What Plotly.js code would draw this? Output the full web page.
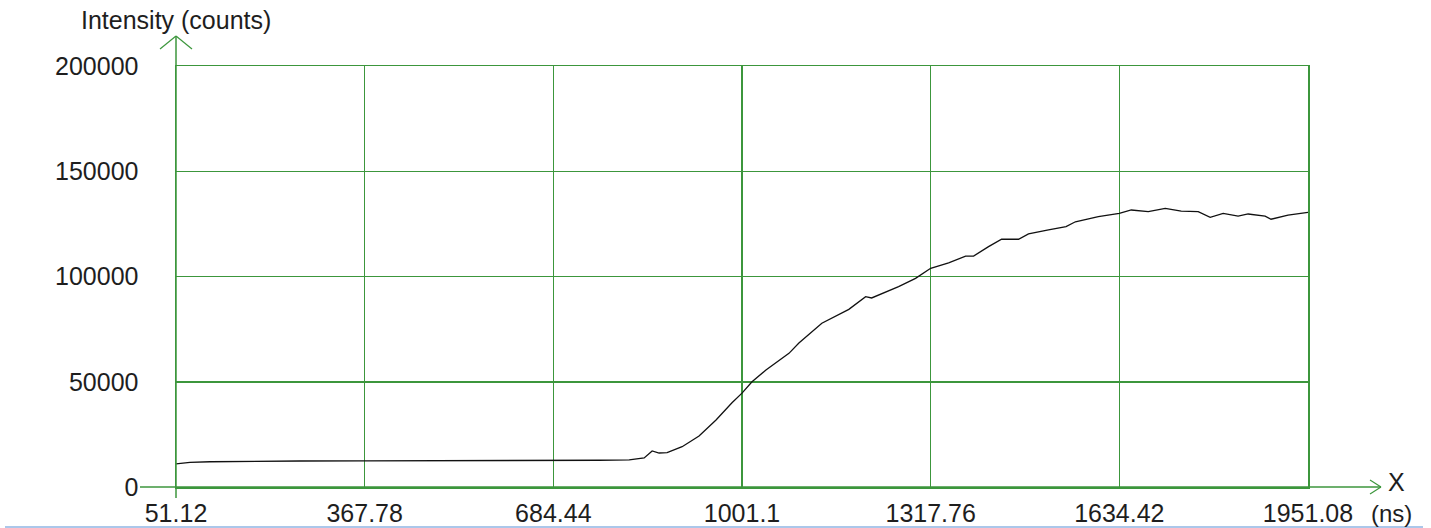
<!DOCTYPE html>
<html>
<head>
<meta charset="utf-8">
<script src="https://cdn.plot.ly/plotly-3.0.1.min.js"></script>
<style>
html,body{margin:0;padding:0;background:#fff;}
#chart{width:1431px;height:528px;}
</style>
</head>
<body>
<div id="chart"></div>
<script>
// Time axis (ns) and intensity (counts)
const timeNs = [51.12, 74.6, 108.1, 175.1, 258.9, 367.78, 459.9, 560.4, 684.44, 761.5, 811.8, 836.9,
  850.3, 862.0, 875.4, 900.6, 929.0, 957.5, 984.3, 1001.1, 1017.9, 1041.3, 1079.9, 1096.6, 1135.1,
  1180.4, 1208.6, 1218.7, 1263.9, 1292.4, 1317.76, 1347.9, 1376.4, 1389.8, 1414.9, 1436.8, 1465.2,
  1482.0, 1515.5, 1545.0, 1560.7, 1599.2, 1634.42, 1654.5, 1683.0, 1711.5, 1738.3, 1766.8, 1786.9,
  1808.7, 1833.8, 1850.6, 1879.1, 1889.1, 1917.6, 1951.08];
const intensity = [11000, 11700, 12000, 12300, 12350, 12400, 12400, 12500, 12600, 12700, 12900, 13800,
  17100, 16150, 16300, 19150, 24200, 31800, 40000, 44600, 50000, 55600, 63500, 68400, 77800,
  84400, 90400, 89800, 95200, 99100, 103900, 106500, 109700, 109700, 114200, 117700, 117700,
  120200, 122100, 123700, 126000, 128400, 130000, 131600, 130800, 132400, 131100, 130800, 128100,
  130000, 128700, 129700, 128700, 127200, 129200, 130500];
const xTickVals = [51.12, 367.78, 684.44, 1001.1, 1317.76, 1634.42, 1951.08];
const xTickText = ["51.12", "367.78", "684.44", "1001.1", "1317.76", "1634.42", "1951.08"];
const yTickVals = [0, 50000, 100000, 150000, 200000];
const yTickText = ["0", "50000", "100000", "150000", "200000"];

const PL = 176, PR = 1308, PT = 66, PB = 487;
const fx = px => (px - PL) / (PR - PL);
const fy = py => (PB - py) / (PB - PT);
const green = '#3c963c';
const txt = '#1e1e1e';
const font = 'Liberation Sans, Arial, sans-serif';
const FS = 25;

function seg(x0, y0, x1, y1, color, w) {
  return {type: 'line', xref: 'paper', yref: 'paper', x0: fx(x0), y0: fy(y0), x1: fx(x1), y1: fy(y1),
          line: {color: color, width: w}, layer: 'above'};
}

const shapes = [
  seg(176, 487, 176, 36, green, 1.5),
  seg(160, 49, 176, 36, green, 1.2),
  seg(192, 49, 176, 36, green, 1.2),
  seg(140, 487, 1381, 487, green, 1.5),
  seg(1370, 480, 1381, 487, green, 1.2),
  seg(1370, 494, 1381, 487, green, 1.2),
  seg(176, 487, 176, 498, green, 1.5),
  seg(5, 527, 1423, 527, '#8fb4e3', 1.5)
];

const trace = {
  x: timeNs, y: intensity, type: 'scatter', mode: 'lines',
  line: {color: '#111', width: 1.3}, hoverinfo: 'skip'
};

const layout = {
  width: 1431, height: 528,
  margin: {l: PL, r: 1431 - PR, t: PT, b: 528 - PB, pad: 0},
  paper_bgcolor: '#fff', plot_bgcolor: '#fff',
  showlegend: false,
  font: {family: font, size: FS, color: txt},
  xaxis: {
    range: [51.12, 1951.08], tickmode: 'array', tickvals: xTickVals, ticktext: xTickText,
    showgrid: true, gridcolor: green, gridwidth: 1.5, zeroline: false, showline: true,
    linecolor: green, linewidth: 1.5, mirror: true,
    ticks: 'outside', ticklen: 3, tickcolor: 'rgba(0,0,0,0)',
    tickfont: {family: font, size: FS, color: txt}, fixedrange: true
  },
  yaxis: {
    range: [0, 200000], tickmode: 'array', tickvals: yTickVals, ticktext: yTickText,
    showgrid: true, gridcolor: green, gridwidth: 1.5, zeroline: false, showline: true,
    linecolor: green, linewidth: 1.5, mirror: true,
    ticks: 'outside', ticklen: 31, tickcolor: 'rgba(0,0,0,0)',
    tickfont: {family: font, size: FS, color: txt}, fixedrange: true
  },
  shapes: shapes,
  annotations: [
    {text: 'Intensity (counts)', xref: 'paper', yref: 'paper', x: fx(176), y: fy(20),
     xanchor: 'center', yanchor: 'middle', showarrow: false, font: {family: font, size: FS, color: txt}},
    {text: 'X', xref: 'paper', yref: 'paper', x: fx(1396), y: fy(482),
     xanchor: 'center', yanchor: 'middle', showarrow: false, font: {family: font, size: FS, color: txt}},
    {text: '(ns)', xref: 'paper', yref: 'paper', x: fx(1391), y: fy(513),
     xanchor: 'center', yanchor: 'middle', showarrow: false, font: {family: font, size: 24, color: txt}}
  ]
};

Plotly.newPlot('chart', [trace], layout, {displayModeBar: false, staticPlot: true});
</script>
</body>
</html>
